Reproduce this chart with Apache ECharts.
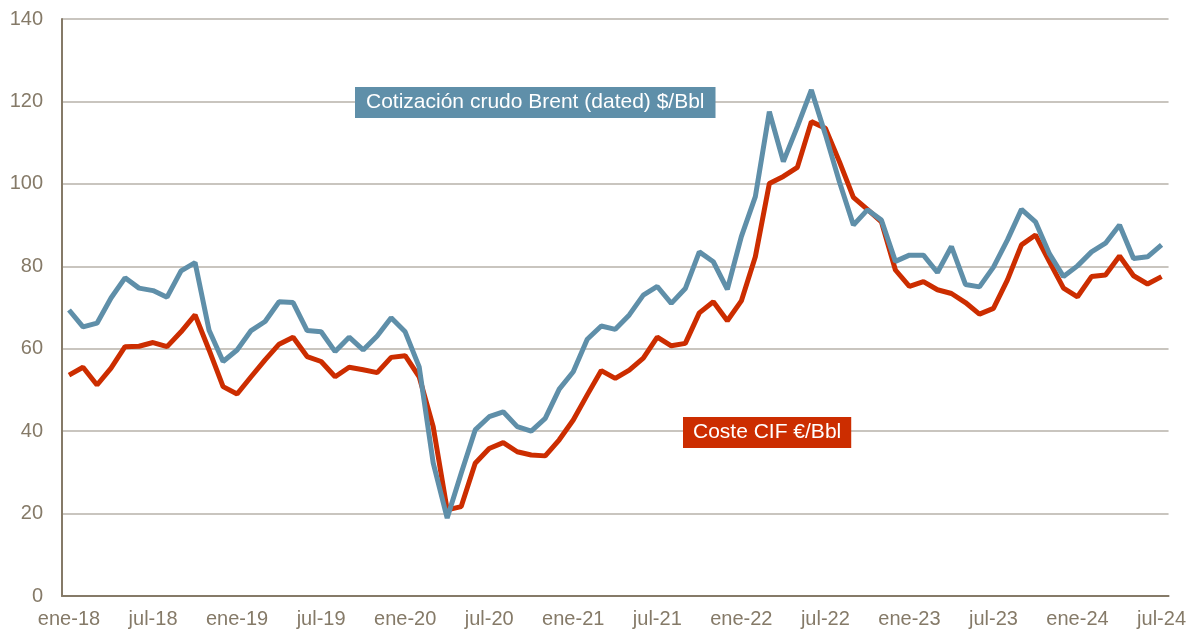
<!DOCTYPE html>
<html>
<head>
<meta charset="utf-8">
<script src="https://cdn.jsdelivr.net/npm/echarts@6/dist/echarts.min.js"></script>
<style>
  html, body { margin: 0; padding: 0; background: #fff; }
  #chart { width: 1189px; height: 632px; }
</style>
</head>
<body>
<div id="chart"></div>
<script>
const meses = ['ene', 'feb', 'mar', 'abr', 'may', 'jun', 'jul', 'ago', 'sep', 'oct', 'nov', 'dic'];
const categories = [];
for (let y = 18; y <= 24; y++) {
  for (let m = 0; m < 12; m++) {
    if (y === 24 && m > 6) break;
    categories.push(meses[m] + '-' + y);
  }
}

// Cotización crudo Brent (dated) $/Bbl
const brent = [
  69.4, 65.3, 66.2, 72.3, 77.2, 74.7, 74.1, 72.5, 78.9, 80.9, 64.5, 56.9,
  59.7, 64.4, 66.6, 71.4, 71.2, 64.4, 64.1, 59.3, 62.8, 59.7, 63.1, 67.5,
  64.1, 55.6, 32.3, 18.9, 29.8, 40.3, 43.5, 44.7, 41.1, 40.0, 43.1, 50.2,
  54.4, 62.3, 65.5, 64.7, 68.2, 73.0, 75.1, 71.0, 74.6, 83.5, 81.1, 74.4,
  87.2, 96.9, 117.5, 105.4, 113.9, 122.8, 112.0, 100.5, 90.0, 93.7, 91.2, 81.2,
  82.7, 82.7, 78.5, 84.8, 75.6, 75.0, 79.8, 86.4, 93.8, 90.8, 83.0, 77.5,
  80.1, 83.5, 85.6, 90.0, 81.9, 82.3, 85.2
];

// Coste CIF €/Bbl
const costeCif = [
  53.6, 55.5, 51.2, 55.3, 60.5, 60.6, 61.5, 60.5, 64.1, 68.2, 59.7, 50.8,
  49.0, 53.2, 57.3, 61.1, 62.8, 58.1, 56.9, 53.2, 55.5, 54.9, 54.2, 57.9,
  58.3, 53.2, 41.1, 20.9, 21.7, 32.2, 35.8, 37.2, 35.0, 34.2, 34.0, 37.9,
  42.7, 48.8, 54.7, 52.8, 54.8, 57.7, 62.8, 60.7, 61.3, 68.7, 71.4, 66.8,
  71.6, 82.3, 100.1, 101.8, 104.0, 115.1, 113.5, 105.4, 96.7, 93.8, 90.8, 79.1,
  75.1, 76.3, 74.3, 73.4, 71.2, 68.4, 69.8, 76.7, 85.2, 87.6, 81.1, 74.7,
  72.6, 77.5, 77.9, 82.5, 77.7, 75.7, 77.5
];

const axisColor = '#857a68';
const font = '"Liberation Sans", Arial, sans-serif';

const myChart = echarts.init(document.getElementById('chart'));
const option = {
  animation: false,
  grid: { left: 62, right: 20, top: 19, bottom: 36 },
  xAxis: {
    type: 'category',
    data: categories,
    boundaryGap: true,
    axisLine: { lineStyle: { color: axisColor, width: 2 } },
    axisTick: { show: false },
    axisLabel: {
      interval: 5,
      color: axisColor,
      fontFamily: font,
      fontSize: 20,
      margin: 13
    },
    splitLine: { show: false }
  },
  yAxis: {
    type: 'value',
    min: 0,
    max: 140,
    interval: 20,
    axisLine: { show: true, lineStyle: { color: axisColor, width: 2 } },
    axisTick: { show: false },
    axisLabel: { color: axisColor, fontFamily: font, fontSize: 20, margin: 19 },
    splitLine: { lineStyle: { color: '#c9c5bf', width: 2 } }
  },
  series: [
    {
      name: 'Cotización crudo Brent (dated) $/Bbl',
      type: 'line',
      data: brent,
      symbol: 'none',
      z: 3,
      lineStyle: { color: '#5f8fa9', width: 5 }
    },
    {
      name: 'Coste CIF €/Bbl',
      type: 'line',
      data: costeCif,
      symbol: 'none',
      z: 2,
      lineStyle: { color: '#cc2d00', width: 5 }
    }
  ],
  graphic: [
    {
      type: 'text',
      left: 355,
      top: 87,
      z: 10,
      style: {
        text: 'Cotización crudo Brent (dated) $/Bbl',
        fill: '#fff',
        font: '21px ' + font,
        backgroundColor: '#5f8fa9',
        padding: [5, 11, 5, 11]
      }
    },
    {
      type: 'text',
      left: 683,
      top: 417,
      z: 10,
      style: {
        text: 'Coste CIF €/Bbl',
        fill: '#fff',
        font: '21px ' + font,
        backgroundColor: '#cc2d00',
        padding: [5, 10, 5, 10]
      }
    }
  ]
};
myChart.setOption(option);
window.addEventListener('resize', () => {
  myChart.resize();
});
</script>
</body>
</html>
